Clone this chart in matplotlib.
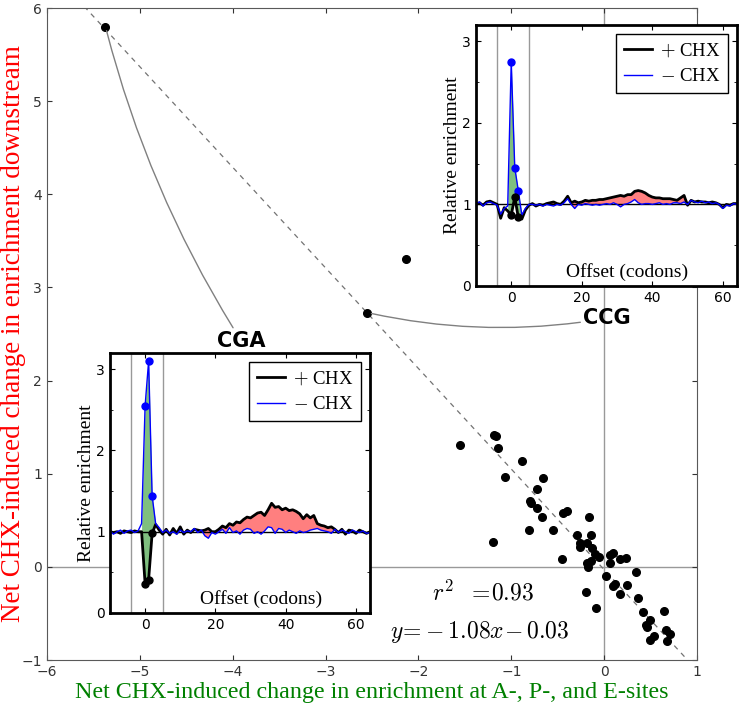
import numpy as np
import matplotlib
matplotlib.use('Agg')
import matplotlib.pyplot as plt

matplotlib.rcParams.update({'font.size': 10, 'mathtext.fontset': 'cm',
                            'xtick.direction': 'in', 'ytick.direction': 'in',
                            'xtick.top': True, 'ytick.right': True})
SERIF = 'Liberation Serif'

# main scatter: net change at A/P/E sites vs net change downstream
net_sites = [-5.37, -2.55, -2.13, -1.55, -1.19, -1.16, -1.14, -0.89, -1.07, -0.66,
             -0.72, -0.80, -0.79, -0.72, -0.67, -0.44, -0.40, -0.81, -0.55, -1.20,
             -0.16, -0.29, -0.14, -0.26, -0.26, -0.18, -0.13, -0.10, -0.06, -0.45,
             -0.19, -0.17, -0.14, 0.06, 0.09, 0.06, 0.17, 0.23, 0.02, 0.34,
             0.12, 0.10, 0.25, 0.17, 0.36, -0.20, -0.09, 0.42, 0.64, 0.49,
             0.45, 0.46, 0.67, 0.71, 0.54, 0.49, 0.68]
net_down = [5.80, 2.73, 3.31, 1.31, 1.42, 1.40, 1.28, 1.14, 0.96, 0.95,
            0.84, 0.71, 0.69, 0.63, 0.54, 0.58, 0.60, 0.40, 0.40, 0.27,
            0.53, 0.34, 0.34, 0.26, 0.21, 0.26, 0.20, 0.14, 0.11, 0.08,
            0.04, 0.00, 0.06, 0.13, 0.15, 0.04, 0.08, 0.10, -0.10, -0.06,
            -0.18, -0.21, -0.20, -0.29, -0.33, -0.27, -0.44, -0.49, -0.47, -0.57,
            -0.62, -0.65, -0.68, -0.72, -0.74, -0.78, -0.80]
fit_slope, fit_icept, fit_r2 = -1.08, -0.03, 0.93

# profiles around codon (offset in codons)
offsets = np.arange(-10, 65)
cga_plus = [1.00, 0.99, 1.00, 0.98, 1.01, 1.00, 0.99, 1.01, 1.00, 1.00,
            0.36, 0.41, 0.98, 1.09, 1.02, 0.97, 1.03, 0.96, 1.04, 0.98,
            1.06, 0.97, 1.02, 0.99, 1.03, 1.02, 1.01, 1.02, 1.04, 1.00,
            1.00, 1.03, 1.07, 1.05, 1.10, 1.08, 1.12, 1.11, 1.15, 1.18,
            1.17, 1.20, 1.23, 1.24, 1.20, 1.27, 1.35, 1.30, 1.31, 1.27,
            1.29, 1.26, 1.27, 1.25, 1.22, 1.16, 1.21, 1.17, 1.20, 1.10,
            1.08, 1.07, 1.05, 1.06, 1.03, 0.99, 1.03, 0.97, 1.02, 1.01,
            0.98, 1.02, 1.00, 0.98, 1.00]
cga_minus = [1.01, 0.97, 1.00, 1.02, 0.98, 1.01, 1.02, 0.99, 1.01, 1.10,
             2.55, 3.10, 1.44, 1.10, 1.05, 0.99, 1.02, 0.98, 1.00, 0.97,
             1.02, 0.99, 1.01, 1.00, 1.04, 0.99, 1.02, 0.95, 0.92, 0.99,
             0.97, 1.00, 1.03, 0.98, 1.05, 0.99, 1.01, 0.97, 1.02, 1.04,
             1.03, 0.98, 1.00, 0.97, 1.01, 1.06, 1.05, 0.98, 1.04, 1.03,
             0.99, 1.02, 1.00, 0.98, 1.01, 0.99, 1.00, 1.02, 1.03, 1.04,
             1.02, 1.01, 1.00, 0.98, 1.03, 0.99, 1.02, 1.00, 0.98, 1.02,
             1.00, 0.99, 1.01, 0.98, 0.99]
ccg_plus = [1.00, 1.02, 0.99, 1.03, 1.04, 1.02, 1.00, 0.83, 0.96, 0.92,
            0.87, 1.09, 0.84, 0.82, 0.93, 0.99, 1.01, 0.98, 1.00, 0.99,
            1.01, 1.02, 1.03, 1.01, 1.00, 1.04, 1.10, 1.02, 1.04, 1.02,
            1.03, 1.05, 1.04, 1.05, 1.05, 1.06, 1.06, 1.07, 1.08, 1.09,
            1.10, 1.11, 1.10, 1.12, 1.12, 1.16, 1.17, 1.16, 1.14, 1.11,
            1.09, 1.08, 1.08, 1.07, 1.07, 1.07, 1.06, 1.05, 1.08, 1.11,
            0.99, 1.05, 1.03, 1.04, 1.03, 1.03, 1.02, 1.03, 1.02, 1.00,
            0.96, 1.00, 0.99, 1.01, 1.01]
ccg_minus = [1.01, 1.03, 0.98, 1.02, 1.03, 1.01, 0.99, 0.88, 0.95, 0.98,
             2.75, 1.45, 1.17, 0.87, 0.95, 1.00, 1.00, 0.99, 1.00, 0.98,
             1.00, 0.99, 0.98, 1.00, 0.99, 1.02, 1.07, 1.00, 0.95, 1.00,
             0.99, 1.01, 1.00, 0.99, 1.00, 0.99, 1.00, 1.01, 1.00, 1.02,
             1.00, 0.97, 1.00, 1.01, 1.03, 1.06, 1.02, 1.00, 1.01, 1.01,
             1.00, 1.01, 1.02, 1.00, 1.01, 1.00, 1.02, 1.02, 1.01, 1.03,
             1.00, 1.05, 1.03, 1.02, 1.04, 1.02, 1.03, 1.01, 1.02, 1.00,
             0.95, 0.99, 0.98, 1.01, 1.00]

fig = plt.figure(figsize=(7.4, 7.04), dpi=100, facecolor='white')
ax = fig.add_axes([0.0635, 0.0625, 0.8784, 0.9261])

ax.axhline(0, color='0.6', lw=1, zorder=1)
ax.axvline(0, color='0.6', lw=1, zorder=1)
xs = np.array([-6, 1])
ax.plot(xs, fit_slope * xs + fit_icept, '--', color='0.45', lw=0.9, dashes=(4, 4), zorder=2)
ax.plot(net_sites, net_down, 'o', color='black', ms=5.5, zorder=3)
ax.set_xlim(-6, 1)
ax.set_ylim(-1, 6)
for s in ax.spines.values():
    s.set_color('0.35')
ax.tick_params(colors='0.2', labelsize=10)
ax.set_xlabel('Net CHX-induced change in enrichment at A-, P-, and E-sites',
              color='green', family=SERIF, fontsize=17.3, labelpad=2)
ax.set_ylabel('Net CHX-induced change in enrichment downstream',
              color='red', family=SERIF, fontsize=19.5)
ax.yaxis.set_label_coords(-0.032, 0.5)

ax.text(-1.3, -0.28, r'$r^2\ \ =\!%.2f$' % fit_r2, fontsize=17, ha='center', va='center')
ax.text(-1.34, -0.70, r'$y\!=\!%.2fx\!%.2f$' % (fit_slope, fit_icept),
        fontsize=17, ha='center', va='center')

ax.annotate('CGA', xy=(net_sites[0], net_down[0]), xytext=(-3.91, 2.43),
            fontsize=15, fontweight='bold', ha='center', va='center',
            arrowprops=dict(arrowstyle='-', color='0.5', lw=1,
                            connectionstyle='arc3,rad=-0.08', shrinkA=0, shrinkB=3))
ax.annotate('CCG', xy=(net_sites[1], net_down[1]), xytext=(0.03, 2.67),
            fontsize=15, fontweight='bold', ha='center', va='center',
            arrowprops=dict(arrowstyle='-', color='0.5', lw=1,
                            connectionstyle='arc3,rad=-0.1', shrinkA=0, shrinkB=3))


def profile(rect, plus, minus):
    ins = fig.add_axes(rect)
    plus = np.array(plus)
    minus = np.array(minus)
    site = (offsets >= -1) & (offsets <= 3)
    down = (offsets >= 10) & (offsets <= 54)
    ins.fill_between(offsets[site], plus[site], minus[site], where=minus[site] >= plus[site],
                     interpolate=True, color='g', alpha=0.5, lw=0)
    ins.fill_between(offsets[down], plus[down], minus[down], where=plus[down] >= minus[down],
                     interpolate=True, color='r', alpha=0.5, lw=0)
    ins.axvline(-4, color='0.6', lw=1)
    ins.axvline(5, color='0.6', lw=1)
    ins.axhline(1, color='black', lw=1)
    ins.plot(offsets, plus, color='black', lw=2, label=r'$+$ CHX')
    ins.plot(offsets, minus, color='blue', lw=1, label=r'$-$ CHX')
    dots = (offsets >= 0) & (offsets <= 2)
    ins.plot(offsets[dots], minus[dots], 'o', color='blue', ms=5)
    ins.plot(offsets[dots], plus[dots], 'o', color='black', ms=5)
    ins.set_xlim(-10, 64)
    ins.set_ylim(0, 3.2)
    ins.set_xticks([0, 20, 40, 60])
    ins.set_yticks([0, 1, 2, 3])
    ins.set_yticks(np.arange(0.5, 3.2, 1.0), minor=True)
    ins.tick_params(which='minor', direction='in', right=True, length=2)
    ins.tick_params(labelsize=10)
    for s in ins.spines.values():
        s.set_linewidth(2)
    ins.set_ylabel('Relative enrichment', family=SERIF, fontsize=14, labelpad=1)
    ins.text(0.58, 0.055, 'Offset (codons)', family=SERIF, fontsize=14,
             ha='center', va='center', transform=ins.transAxes)
    ins.legend(loc='upper right', prop={'family': SERIF, 'size': 13.5},
               fancybox=False, edgecolor='black', framealpha=1,
               handlelength=1.5, handletextpad=0.4, labelspacing=0.45)
    return ins


profile([0.1486, 0.1293, 0.3514, 0.3693], cga_plus, cga_minus)
profile([0.6432, 0.5938, 0.3527, 0.3707], ccg_plus, ccg_minus)

fig.savefig('out.png', dpi=100)
